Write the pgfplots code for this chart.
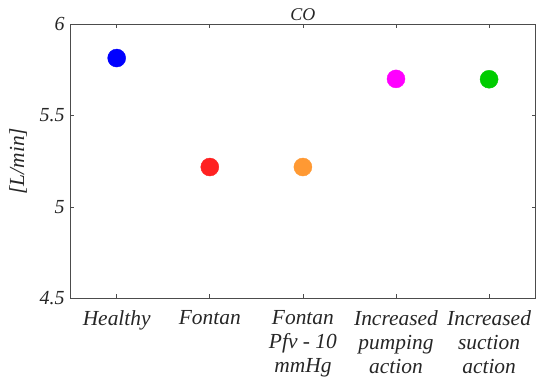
\documentclass[border=0pt]{standalone}
\usepackage{pgfplots}
\pgfplotsset{compat=1.18}
\usepackage{fontspec}
\setmainfont{Liberation Serif}
\definecolor{cblue}{rgb}{0,0,1}
\definecolor{cred}{rgb}{1,0.13,0.13}
\definecolor{corange}{rgb}{1,0.6,0.2}
\definecolor{cmag}{rgb}{1,0,1}
\definecolor{cgreen}{rgb}{0,0.8,0}
\definecolor{axgray}{rgb}{0.3,0.3,0.3}
\begin{document}
\begin{tikzpicture}
\begin{axis}[
  scale only axis,
  width=465bp, height=274bp,
  xmin=0.5, xmax=5.5,
  ymin=4.5, ymax=6,
  xtick={1,2,3,4,5},
  xticklabels={Healthy,Fontan,{Fontan\\Pfv - 10\\mmHg},{Increased\\pumping\\action},{Increased\\suction\\action}},
  ytick={4.5,5,5.5,6},
  yticklabels={4.5,5,5.5,6},
  tick align=inside,
  major tick length=4bp,
  axis line style={axgray, line width=0.7pt},
  every tick/.style={axgray, line width=0.6pt},
  xticklabel style={font=\fontsize{21.5}{24}\selectfont\itshape, text=black!85, align=center, yshift=-9bp},
  yticklabel style={font=\fontsize{20}{24}\selectfont\itshape, text=black!85, xshift=-2bp},
  ylabel={\rule{0pt}{24bp}[L/min]},
  ylabel style={font=\fontsize{21.5}{24}\selectfont\itshape, text=black!85, at={(rel axis cs:0,0.5)}, anchor=south, inner sep=0pt, yshift=43bp},
  title={\rule{0pt}{17bp}CO},
  title style={font=\fontsize{18}{20}\selectfont\itshape, text=black!85, yshift=-6bp},
  /pgf/number format/assume math mode=true,
  clip=false,
]
\addplot[only marks, mark=*, mark size=9bp, color=cblue] coordinates {(1,5.814)};
\addplot[only marks, mark=*, mark size=9bp, color=cred] coordinates {(2,5.218)};
\addplot[only marks, mark=*, mark size=9bp, color=corange] coordinates {(3,5.218)};
\addplot[only marks, mark=*, mark size=9bp, color=cmag] coordinates {(4,5.700)};
\addplot[only marks, mark=*, mark size=9bp, color=cgreen] coordinates {(5,5.698)};
\end{axis}
\end{tikzpicture}
\end{document}
